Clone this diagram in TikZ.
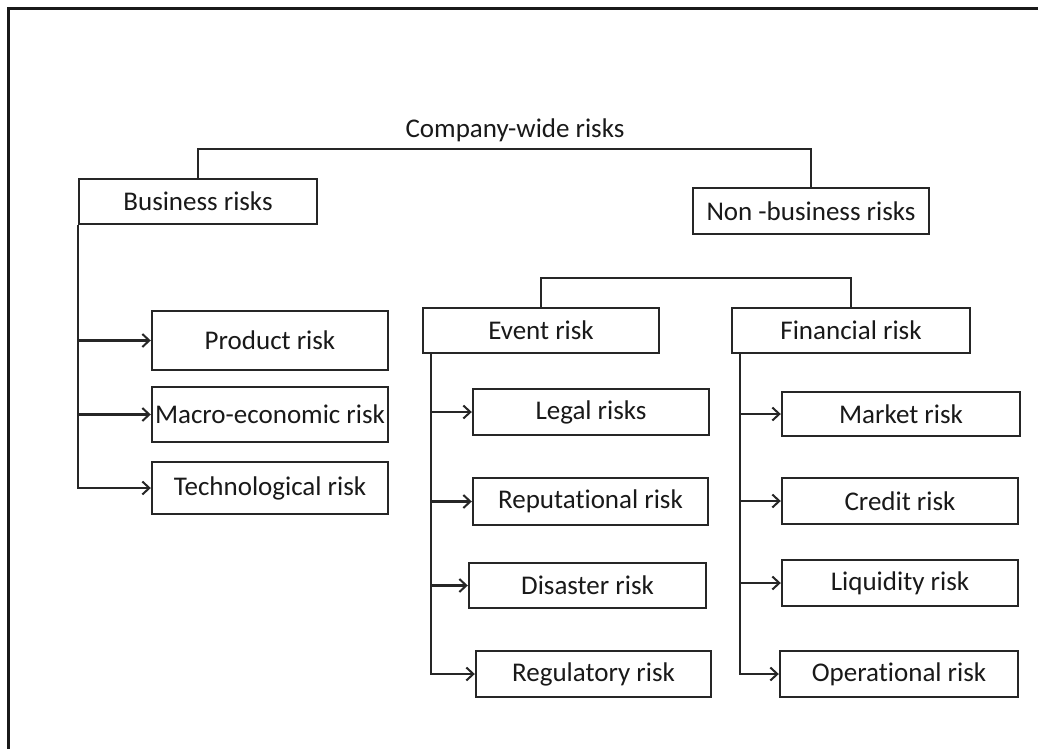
\documentclass[tikz,border=0pt]{standalone}
\usepackage{fontspec}
\setmainfont{Carlito}[Ligatures=NoCommon]
\usetikzlibrary{arrows.meta,calc}
\begin{document}
\begin{tikzpicture}[x=1pt,y=-1pt,
  every node/.style={font=\fontsize{27}{32}\selectfont, text=black!90},
  box/.style={draw=black!85, line width=2.4pt, inner sep=0pt, fill=white},
  link/.style={draw=black!85, line width=2.4pt},
  feed/.style={link, -{Straight Barb[length=7pt,width=13pt,line width=2pt]}}]
  \useasboundingbox (0,0) rectangle (1038,749);
  % page frame (only the top and left edges fall inside the picture)
  \draw[line width=3pt, black!90] (8,9) rectangle (1060,770);

  % top level
  \node (cw) at (515,130) {Company-wide risks};
  \coordinate (ctop) at (515,149);
  \node[box, minimum width=238, minimum height=45] (bus) at (198,201.5) {Business risks};
  \node[box, minimum width=236, minimum height=46] (nb)  at (811,211) {Non -business risks};
  \draw[link] (bus.north) |- (ctop) -| (nb.north);

  % business risks
  \node[box, minimum width=236, minimum height=59] (prod)  at (270,340.5) {Product risk};
  \node[box, minimum width=236, minimum height=55] (macro) at (270,414.5) {Macro-economic risk};
  \node[box, minimum width=236, minimum height=52] (tech)  at (270,488) {Technological risk};
  \draw[feed] (bus.south west) |- (tech.west);
  \draw[feed] (bus.south west |- prod.west) -- (prod.west);
  \draw[feed] (bus.south west |- macro.west) -- (macro.west);

  % non-business risks
  \coordinate (ntop) at (697,278);
  \node[box, minimum width=236, minimum height=45] (ev)  at (541,330.5) {Event risk};
  \node[box, minimum width=238, minimum height=45] (fin) at (851,330.5) {Financial risk};
  \draw[link] (ev.north) |- (ntop) -| (fin.north);

  % event risks
  \node[box, minimum width=236, minimum height=46] (legal) at (591,412) {Legal risks};
  \node[box, minimum width=235, minimum height=47] (rep)   at (590.5,501.5) {Reputational risk};
  \node[box, minimum width=237, minimum height=45] (dis)   at (587.5,585.5) {Disaster risk};
  \node[box, minimum width=235, minimum height=46] (reg)   at (593.5,674) {Regulatory risk};
  \coordinate (evs) at ($(ev.south west)+(9,0)$);
  \draw[feed] (evs) |- (reg.west);
  \draw[feed] (evs |- legal.west) -- (legal.west);
  \draw[feed] (evs |- rep.west) -- (rep.west);
  \draw[feed] (evs |- dis.west) -- (dis.west);

  % financial risks
  \node[box, minimum width=238, minimum height=44] (mkt)  at (901,414) {Market risk};
  \node[box, minimum width=236, minimum height=46] (cred) at (900,501) {Credit risk};
  \node[box, minimum width=236, minimum height=46] (liq)  at (900,583) {Liquidity risk};
  \node[box, minimum width=238, minimum height=46] (op)   at (899,674) {Operational risk};
  \coordinate (fins) at ($(fin.south west)+(9,0)$);
  \draw[feed] (fins) |- (op.west);
  \draw[feed] (fins |- mkt.west) -- (mkt.west);
  \draw[feed] (fins |- cred.west) -- (cred.west);
  \draw[feed] (fins |- liq.west) -- (liq.west);
\end{tikzpicture}
\end{document}
